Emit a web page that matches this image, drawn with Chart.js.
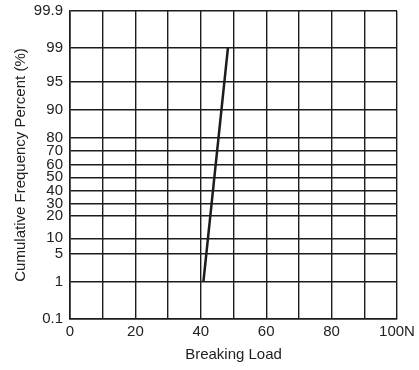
<!DOCTYPE html>
<html>
<head>
<meta charset="utf-8">
<script src="https://cdn.jsdelivr.net/npm/chart.js@4"></script>
<style>
  html, body { margin: 0; padding: 0; background: #fff; }
</style>
</head>
<body>
<canvas id="probChart" width="419" height="370"></canvas>
<script>
// tick labels on the probability axis and where they sit (0 = bottom, 100 = top)
const yTickLabels = [0.1, 1, 5, 10, 20, 30, 40, 50, 60, 70, 80, 90, 95, 99, 99.9];
const yTickPos    = [0, 12.1, 21.3, 26.2, 33.4, 37.5, 41.6, 46.0, 50.2, 54.5, 58.8, 67.8, 77.0, 88.0, 100];

// the fitted line: breaking load (N) vs cumulative percent
const loadValues = [40.8, 48.3];
const cumPercent = [1, 99];

// percent -> position on the probability paper
function probPos(p) {
    for (let i = 0; i < yTickLabels.length - 1; i++) {
        const a = yTickLabels[i], b = yTickLabels[i + 1];
        if (p >= a && p <= b) {
            return yTickPos[i] + (p - a) / (b - a) * (yTickPos[i + 1] - yTickPos[i]);
        }
    }
    return p < yTickLabels[0] ? 0 : 100;
}

const ink = '#1c1c1c';
const font = { family: '"Liberation Sans", Arial, sans-serif', size: 15 };

new Chart(document.getElementById('probChart'), {
    type: 'line',
    data: {
        datasets: [{
            data: loadValues.map((x, i) => ({ x: x, y: probPos(cumPercent[i]) })),
            borderColor: ink,
            borderWidth: 2.5,
            pointRadius: 0,
            tension: 0
        }]
    },
    options: {
        responsive: false,
        animation: false,
        layout: { padding: { left: 0, right: 22, top: 11, bottom: 0 } },
        plugins: { legend: { display: false }, tooltip: { enabled: false } },
        scales: {
            x: {
                type: 'linear',
                min: 0, max: 100,
                grid: { color: ink, lineWidth: 1.4, drawTicks: false },
                border: { color: ink, width: 1.6 },
                ticks: {
                    stepSize: 10,
                    padding: 4,
                    autoSkip: false,
                    maxRotation: 0,
                    minRotation: 0,
                    color: '#222',
                    font: font,
                    callback: v => v % 20 === 0 ? (v === 100 ? '100N' : String(v)) : ''
                },
                title: {
                    display: true,
                    text: 'Breaking Load',
                    color: '#222',
                    font: font,
                    padding: { top: 0, bottom: 6 }
                },
                afterFit: axis => { axis.height = 51; }
            },
            y: {
                type: 'linear',
                min: 0, max: 100,
                afterBuildTicks: axis => { axis.ticks = yTickPos.map(v => ({ value: v })); },
                grid: { color: ink, lineWidth: 1.4, drawTicks: false },
                border: { color: ink, width: 1.6 },
                ticks: {
                    autoSkip: false,
                    padding: 7,
                    color: '#222',
                    font: font,
                    callback: (v, i) => String(yTickLabels[i])
                },
                title: {
                    display: true,
                    text: 'Cumulative Frequency Percent (%)',
                    color: '#222',
                    font: font,
                    padding: { top: 12, bottom: 0 }
                },
                afterFit: axis => {
                    axis.width = 70;
                    axis.paddingTop = 0;
                    axis.paddingBottom = 0;
                }
            }
        }
    }
});
</script>
</body>
</html>
